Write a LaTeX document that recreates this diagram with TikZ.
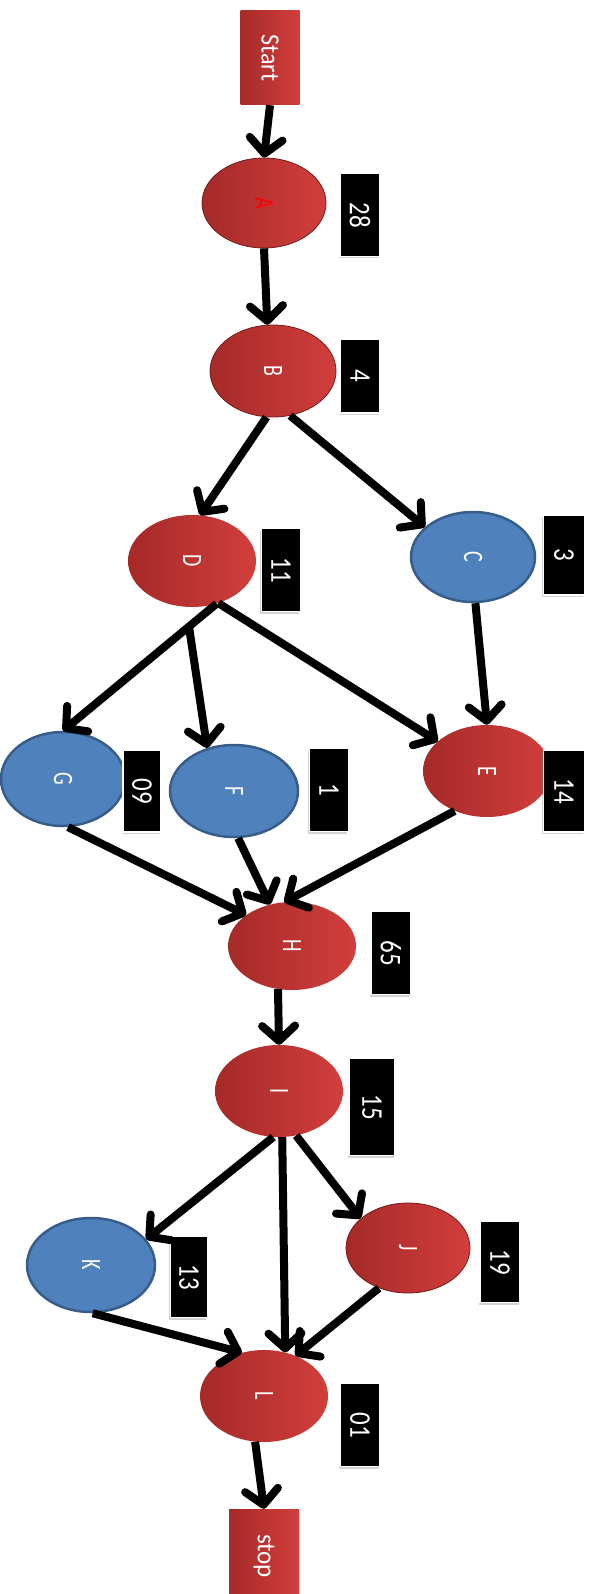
\documentclass[tikz,border=0pt]{standalone}
\usepackage{fontspec}
\usepackage{graphicx}
\setmainfont{Carlito}
\usetikzlibrary{arrows.meta,shadows,calc,shapes.geometric}

\definecolor{redL}{RGB}{165,42,40}
\definecolor{redR}{RGB}{210,62,60}
\definecolor{redEdge}{RGB}{118,28,26}
\definecolor{blueF}{RGB}{79,129,189}
\definecolor{blueD}{RGB}{56,93,138}

% rotated text: size, vertical stretch, content
\newcommand{\rtext}[3]{\rotatebox{-90}{\fontsize{#1}{#1}\selectfont\scalebox{1}[#2]{#3}}}

\tikzset{
  task/.style={ellipse, inner sep=0pt, text=white},
  redtask/.style={task, left color=redL, right color=redR},
  bevel/.style={draw=redEdge, line width=0.8pt},
  bluetask/.style={task, fill=blueF, draw=blueD, line width=2.5pt},
  terminal/.style={rectangle, inner sep=0pt, left color=redL, right color=redR, text=white},
  cost/.style={rectangle, inner sep=0pt, fill=black, draw=white, line width=1.5pt, text=white,
    drop shadow={shadow xshift=-1.5pt, shadow yshift=-2pt, opacity=0.35}},
  flow/.style={line width=8pt, -{Straight Barb[length=15pt,width=33pt,round]}}
}

\begin{document}
\begin{tikzpicture}[x=1pt, y=-1pt]
\useasboundingbox (0,0) rectangle (590,1594);

% start / stop terminals
\node[terminal, minimum width=59pt, minimum height=94pt] (start) at (270,58) {\rtext{24}{1.1}{Start}};
\node[terminal, minimum width=70pt, minimum height=94pt] (stop) at (264,1556) {\rtext{25}{1.05}{stop}};

% activities
\node[redtask, bevel, text=red, minimum width=124pt, minimum height=90pt] (A) at (264,203) {\rtext{20}{1.4}{A}};
\node[redtask, bevel, minimum width=126pt, minimum height=92pt] (B) at (273,371) {\rtext{20}{1.4}{B}};
\node[bluetask, minimum width=124pt, minimum height=90pt] (C) at (473,557) {\rtext{20}{1.4}{C}};
\node[redtask, minimum width=128pt, minimum height=92pt] (D) at (192,561) {\rtext{20}{1.4}{D}};
\node[redtask, minimum width=128pt, minimum height=92pt] (E) at (487,771) {\rtext{20}{1.4}{E}};
\node[bluetask, minimum width=128pt, minimum height=92pt] (F) at (234,791) {\rtext{20}{1.4}{F}};
\node[bluetask, minimum width=124pt, minimum height=94pt] (G) at (63,779) {\rtext{20}{1.4}{G}};
\node[redtask, minimum width=128pt, minimum height=88pt] (H) at (292,946) {\rtext{20}{1.4}{H}};
\node[redtask, minimum width=128pt, minimum height=92pt] (I) at (279,1091) {\rtext{20}{1.4}{I}};
\node[redtask, bevel, minimum width=124pt, minimum height=90pt] (J) at (408,1248) {\rtext{20}{1.4}{J}};
\node[bluetask, minimum width=128pt, minimum height=94pt] (K) at (91,1265) {\rtext{20}{1.4}{K}};
\node[redtask, minimum width=128pt, minimum height=92pt] (L) at (264,1396) {\rtext{20}{1.4}{L}};

% durations
\node[cost, minimum width=40pt, minimum height=83pt] (tA) at (360,215) {\rtext{25}{1.2}{28}};
\node[cost, minimum width=40pt, minimum height=74pt] (tB) at (360,376) {\rtext{25}{1.2}{4}};
\node[cost, minimum width=41pt, minimum height=80pt] (tC) at (564,555) {\rtext{25}{1.2}{3}};
\node[cost, minimum width=39pt, minimum height=83pt] (tD) at (281,570) {\rtext{25}{1.2}{11}};
\node[cost, minimum width=41pt, minimum height=82pt] (tE) at (564,791) {\rtext{25}{1.2}{14}};
\node[cost, minimum width=39pt, minimum height=83pt] (tF) at (329,790) {\rtext{25}{1.2}{1}};
\node[cost, minimum width=38pt, minimum height=82pt] (tG) at (142,791) {\rtext{25}{1.2}{09}};
\node[cost, minimum width=40pt, minimum height=83pt] (tH) at (391,953) {\rtext{25}{1.2}{65}};
\node[cost, minimum width=46pt, minimum height=97pt] (tI) at (372,1107) {\rtext{25}{1.2}{15}};
\node[cost, minimum width=40pt, minimum height=81pt] (tJ) at (500,1262) {\rtext{25}{1.2}{19}};
\node[cost, minimum width=37pt, minimum height=81pt] (tK) at (189,1277) {\rtext{25}{1.2}{13}};
\node[cost, minimum width=40pt, minimum height=83pt] (tL) at (360,1425) {\rtext{25}{1.2}{01}};

% precedence arrows
\draw[flow] (start.south) -- (A.north);
\draw[flow] (A.south) -- (B.97);
\draw[flow] (B.-98) -- (D.80);
\draw[flow] (B.-69) -- (C.148);
\coordinate (Dfork) at ($(D.-60)!0.18!(G.north)$);
\draw[flow] (D.-60) -- (G.north);
\draw[flow] (Dfork) -- (F.122);
\draw[flow] (D.-58) -- (E.149);
\draw[flow] (C.-87) -- (E.north);
\draw[flow] (G.-84) -- (H.146);
\draw[flow] (F.-85) -- (H.118);
\draw[flow] (E.231) -- (H.100);
\draw[flow] (H.-108) -- (I.north);
\draw[flow] (I.-97) -- (K.25);
\draw[flow] (I.-86) -- (L.64);
\draw[flow] (I.-69) -- (J.148);
\draw[flow] (J.-126) -- (L.52);
\draw[flow] (K.-88) -- (L.117);
\draw[flow] (L.-101) -- (stop.north);
\end{tikzpicture}
\end{document}
